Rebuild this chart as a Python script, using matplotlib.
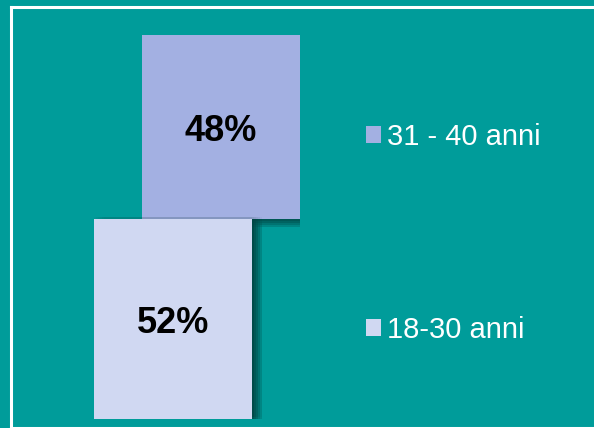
import matplotlib
matplotlib.use("Agg")
import matplotlib.pyplot as plt
from matplotlib.lines import Line2D
import matplotlib.patheffects as pe

# Age groups and their shares (%)
groups = ["18-30 anni", "31 - 40 anni"]
shares = [52, 48]
labels = ["52%", "48%"]
colors = ["#D0D8F2", "#A3B0E2"]

W, H = 594, 428
BG = "#009C9A"

fig = plt.figure(figsize=(W / 100, H / 100), dpi=100, facecolor=BG,
                 edgecolor=BG, linewidth=0)
plt.rcParams["font.family"] = ["Liberation Sans", "DejaVu Sans"]

# Axes placed in pixel terms: bars span y 35..419 px for 0..100 %
ax_left, ax_right = 94, 300
ax_top, ax_bottom = 35, 419
ax = fig.add_axes([ax_left / W, (H - ax_bottom) / H,
                   (ax_right - ax_left) / W, (ax_bottom - ax_top) / H])
ax.set_facecolor("none")
ax.axis("off")
px_per_unit = (ax_bottom - ax_top) / 100.0

step = 48 / 158  # horizontal shift of the stacked upper block
xpos = [0.0, step]
bottoms = [0, shares[0]]

# soft drop shadow: a grid of faint offset copies approximates a blur
pt = 72.0 / 100.0
shadow = []
for dx in (0, 2, 4, 6, 8, 10):
    for dy in (-2, 0, 2, 4, 6, 8):
        shadow.append(pe.SimplePatchShadow(offset=(dx * pt, -dy * pt),
                                           shadow_rgbFace="#002a28", alpha=0.03))
shadow.append(pe.Normal())

handles = {}
for i in (1, 0):  # upper block first so the lower one sits on top
    b = ax.bar(xpos[i], shares[i], bottom=bottoms[i], width=1.0, color=colors[i],
               edgecolor="none", zorder=2 + (1 - i), label=groups[i])
    b.patches[0].set_path_effects(shadow)
    handles[i] = b
    mid = bottoms[i] + shares[i] / 2
    ax.text(xpos[i], mid - 14.0 / px_per_unit, labels[i], ha="center", va="baseline",
            fontsize=26, fontweight="bold", color="black", zorder=5)

ax.set_xlim(-0.5, 0.5 + step)
ax.set_ylim(0, 100)

# legend entries, one per group
legend_y = {1: 137, 0: 330}
for i in (1, 0):
    leg = fig.legend([handles[i]], [groups[i]], loc="center left",
                     bbox_to_anchor=(366 / W, (H - legend_y[i]) / H),
                     frameon=False, borderpad=0, borderaxespad=0,
                     handlelength=0.52, handleheight=0.52, handletextpad=0.2,
                     prop={"size": 21})
    for t in leg.get_texts():
        t.set_color("white")
    for h in leg.legend_handles:
        h.set_path_effects([])

# white frame: top, left and bottom edges
fx = lambda x: x / W
fy = lambda y: (H - y) / H
for xs, ys in (([10.5, 600], [6.5, 6.5]),
               ([10.5, 10.5], [6.5, 427.5]),
               ([10.5, 600], [427.5, 427.5])):
    fig.add_artist(Line2D([fx(x) for x in xs], [fy(y) for y in ys],
                          transform=fig.transFigure, color="white", lw=2.2,
                          solid_capstyle="projecting"))

fig.savefig("out.png", dpi=100, facecolor=BG, edgecolor=BG)
